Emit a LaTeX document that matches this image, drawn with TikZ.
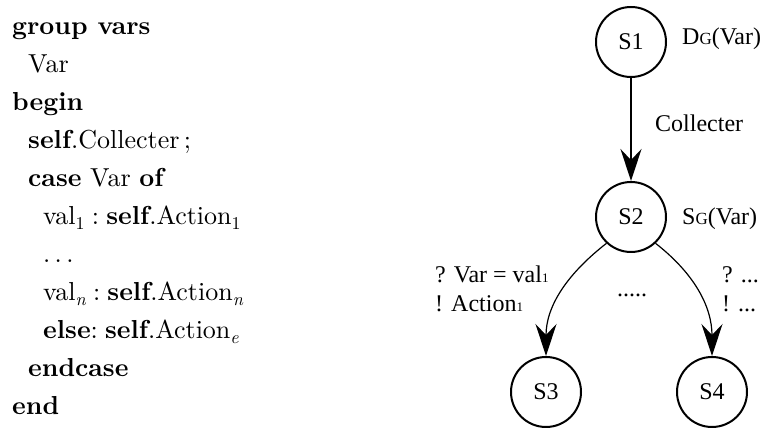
\documentclass[tikz,border=0pt]{standalone}
\usepackage{fontspec}
\newfontfamily\tms{Liberation Serif}
\newfontfamily\cmten[Extension=.otf, UprightFont=*-regular, BoldFont=*-bold, ItalicFont=*-italic, BoldItalicFont=*-bolditalic]{lmroman10}
\usetikzlibrary{arrows.meta}
\tikzset{
  code/.style={anchor=base west, inner sep=0pt, font=\cmten\fontsize{26}{30}\selectfont},
  lbl/.style={anchor=base west, inner sep=0pt, font=\tms\fontsize{24}{28}\selectfont},
  state/.style={circle, draw, line width=2pt, minimum size=70pt, inner sep=0pt, font=\tms\fontsize{24}{28}\selectfont},
  bigtip/.style={-{Stealth[length=32pt,width=21pt,inset=11pt]}},
  thin arc/.style={line width=1.2pt, bigtip}
}
\newcommand{\sml}[1]{{\fontsize{13}{13}\selectfont #1}}
\newcommand{\smc}[1]{{\fontsize{17}{17}\selectfont #1}}
\newcommand{\lowsub}[1]{\raisebox{-5pt}{\fontsize{18}{18}\selectfont\mdseries #1}}
\begin{document}
\begin{tikzpicture}[x=1pt,y=1pt]
\useasboundingbox (0,0) rectangle (763,428);
% code listing
\node[code] (c0) at (12,393) {\textbf{group vars}};
\node[code] (c1) at (28,355) {Var};
\node[code] (c2) at (12,317) {\textbf{begin}};
\node[code] (c3) at (28,279) {\textbf{self}.Collecter\,;};
\node[code] (c4) at (28,241) {\textbf{case} Var \textbf{of}};
\node[code] (c5) at (43,203) {val\lowsub{1}\;:\;\textbf{self}.Action\lowsub{1}};
\node[code] (c6) at (43,165) {.\,.\,.};
\node[code] (c7) at (43,127) {val\lowsub{\itshape n}\;:\;\textbf{self}.Action\lowsub{\itshape n}};
\node[code] (c8) at (43,89) {\textbf{else}:\;\textbf{self}.Action\lowsub{\itshape e}};
\node[code] (c9) at (28,51) {\textbf{endcase}};
\node[code] (c10) at (12,13) {\textbf{end}};
% states
\node[state] (S1) at (631,386) {S1};
\node[state] (S2) at (631,211) {S2};
\node[state] (S3) at (546,36) {S3};
\node[state] (S4) at (712,36) {S4};
% labels
\node[lbl] (l1) at (682,383) {D\smc{G}(Var)};
\node[lbl] (l2) at (682,203) {S\smc{G}(Var)};
\node[lbl] (l3) at (655,296) {Collecter};
\node[lbl] (l4) at (435,145) {? Var = val\sml{1}};
\node[lbl] (l5) at (435,116) {! Action\sml{1}};
\node[lbl] (l6) at (617,131) {.....};
\node[lbl] (l7) at (722,145) {? ...};
\node[lbl] (l8) at (722,116) {! ...};
% connectors
\draw[line width=2pt, bigtip] (S1) -- (S2);
\draw[thin arc] (S2.-133) to[out=218,in=90] (S3.north);
\draw[thin arc] (S2.-47) to[out=-38,in=90] (S4.north);
\end{tikzpicture}
\end{document}
